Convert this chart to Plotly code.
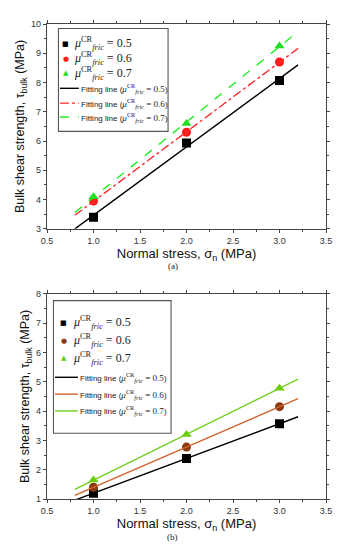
import numpy as np
import plotly.graph_objects as go
from plotly.subplots import make_subplots

# ---------------- data ----------------
normal_stress = [1.0, 2.0, 3.0]
fit_range = [0.8, 3.2]
mu_labels = ["0.5", "0.6", "0.7"]

# (a)
a_mu05 = [3.40, 5.93, 8.07]
a_mu06 = [3.95, 6.30, 8.70]
a_mu07 = [4.10, 6.60, 9.25]

# (b)
b_mu05 = [1.20, 2.38, 3.57]
b_mu06 = [1.40, 2.77, 4.15]
b_mu07 = [1.65, 3.20, 4.78]

x_ticks = [0.5, 1.0, 1.5, 2.0, 2.5, 3.0, 3.5]
x_ticktext = ["0.5", "1.0", "1.5", "2.0", "2.5", "3.0", "3.5"]

# ---------------- styles ----------------
SERIF = "Liberation Serif, Times New Roman, serif"
SANS = "Liberation Sans, Arial, sans-serif"
SYMBOL_GLYPH = {"square": "■", "circle": "●", "triangle-up": "▲"}

def mu_text(v):
    return (f"<i>μ</i><sup>CR</sup><sub><i>fric</i></sub> = {v}")

def fit_text(v):
    return (f"Fitting line (<span style='font-family:{SERIF};font-size:9px'><i>μ</i>"
            f"<sup>CR</sup><sub><i>fric</i></sub> = {v}</span>)")

fig = make_subplots(rows=2, cols=1, vertical_spacing=0.0)

# plot area in page pixels (used only to place the hand-made legend boxes)
PX_L, PX_R, PX_T, PX_B = 46.0, 326.0, 19.0, 499.0
def px(xp):
    return (xp - PX_L) / (PX_R - PX_L)
def py(yp):
    return (PX_B - yp) / (PX_B - PX_T)

def hline(x0, x1, y0, y1, color, width, dash="solid"):
    fig.add_shape(type="line", xref="paper", yref="paper",
                  x0=px(x0), x1=px(x1), y0=py(y0), y1=py(y1),
                  line=dict(color=color, width=width, dash=dash), layer="above")

def add_panel(row, ys, mcolors, lcolors, dashes, symbols, leg):
    xs = np.array(fit_range)
    for y, mc, sym, lab in zip(ys, mcolors, symbols, mu_labels):
        fig.add_trace(go.Scatter(x=normal_stress, y=y, mode="markers",
                                 marker=dict(color=mc, symbol=sym, size=9, line=dict(width=0)),
                                 name=f"μ = {lab}", showlegend=False),
                      row=row, col=1)
    for y, lc, d, lab in zip(ys, lcolors, dashes, mu_labels):
        k, b = np.polyfit(normal_stress, y, 1)
        fig.add_trace(go.Scatter(x=xs, y=k * xs + b, mode="lines",
                                 line=dict(color=lc, width=1.4, dash=d),
                                 name=f"Fitting line (μ = {lab})", showlegend=False),
                      row=row, col=1)

    # legend frame (layout decoration, matching the compact original legend)
    l, t, r, b = leg["box"]
    for (a0, a1, b0, b1) in [(l - 0.5, r + 0.5, t, t), (l - 0.5, r + 0.5, b, b),
                             (l, l, t, b), (r, r, t, b)]:
        hline(a0, a1, b0, b1, "#555", 1.1)
    rows = leg["rows"]
    for i, (mc, sym, lab) in enumerate(zip(mcolors, symbols, mu_labels)):
        fig.add_annotation(text=SYMBOL_GLYPH[sym], xref="paper", yref="paper",
                           x=px(leg["mark_x"]), y=py(rows[i]), showarrow=False,
                           xanchor="center", yanchor="middle",
                           font=dict(family="DejaVu Sans", size=7, color=mc))
        fig.add_annotation(text=mu_text(lab), xref="paper", yref="paper",
                           x=px(leg["mu_x"]), y=py(rows[i]), showarrow=False,
                           xanchor="left", yanchor="middle",
                           font=dict(family=SERIF, size=12, color="#222"))
    for j, (lc, d, lab) in enumerate(zip(lcolors, dashes, mu_labels)):
        yy = rows[3 + j]
        hline(leg["line_x"][0], leg["line_x"][1], yy, yy, lc, 1.4, d)
        fig.add_annotation(text=fit_text(lab), xref="paper", yref="paper",
                           x=px(leg["text_x"]), y=py(yy), showarrow=False,
                           xanchor="left", yanchor="middle",
                           font=dict(family=SANS, size=8, color="#222"))

legend_a = dict(box=(57.5, 23.5, 167.5, 127.5), rows=[39, 54, 69, 84, 99, 113],
                mark_x=65, mu_x=71, line_x=(59, 78), text_x=78)
legend_b = dict(box=(52.5, 298.5, 170.5, 432.5), rows=[321, 339, 357, 376, 393, 410],
                mark_x=63, mu_x=70, line_x=(54, 77), text_x=77)

add_panel(1, [a_mu05, a_mu06, a_mu07],
          ["#000000", "#FF1A1A", "#22DD22"],
          ["#000000", "#FF2A2A", "#22EE22"],
          ["solid", "dashdot", "dash"],
          ["square", "circle", "triangle-up"], legend_a)
add_panel(2, [b_mu05, b_mu06, b_mu07],
          ["#000000", "#8B3A0F", "#66CC00"],
          ["#000000", "#D2622E", "#70D020"],
          ["solid", "solid", "solid"],
          ["square", "circle", "triangle-up"], legend_b)

axis_common = dict(showline=True, linecolor="#444", linewidth=1.3, mirror="ticks",
                   ticks="outside", ticklen=3, tickcolor="#444", showgrid=False,
                   zeroline=False, tickfont=dict(family=SANS, size=9, color="#333"))

for r, (lo, hi) in zip([1, 2], [(3, 10), (1, 8)]):
    fig.update_xaxes(range=[0.5, 3.5], tickvals=x_ticks, ticktext=x_ticktext,
                     minor=dict(ticks="outside", ticklen=2, dtick=0.25, tickcolor="#444"),
                     title=dict(text="Normal stress, σ<sub>n</sub> (MPa)",
                                font=dict(family=SANS, size=13, color="#111"), standoff=1),
                     row=r, col=1, **axis_common)
    fig.update_yaxes(range=[lo, hi], dtick=1,
                     minor=dict(ticks="outside", ticklen=2, dtick=0.5, tickcolor="#444"),
                     title=dict(text="Bulk shear strength, τ<sub>bulk</sub> (MPa)",
                                font=dict(family=SANS, size=12.5, color="#111"), standoff=3),
                     row=r, col=1, **axis_common)

fig.update_layout(
    xaxis=dict(domain=[0, 1]), xaxis2=dict(domain=[0, 1]),
    yaxis=dict(domain=[0.56875, 1.0]), yaxis2=dict(domain=[0.0, 0.432]),
)

fig.add_annotation(text="(a)", x=0.45, y=0.49, xref="paper", yref="paper",
                   showarrow=False, font=dict(family=SERIF, size=9, color="#222"))
fig.add_annotation(text="(b)", x=0.45, y=-0.094, xref="paper", yref="paper",
                   showarrow=False, font=dict(family=SERIF, size=9, color="#222"))

# page body has an 8px default margin, so the figure is sized/offset to compensate
fig.update_layout(width=337, height=542, margin=dict(l=38, r=19, t=11, b=51),
                  plot_bgcolor="white", paper_bgcolor="white", showlegend=False)

fig.write_html("out.html")
